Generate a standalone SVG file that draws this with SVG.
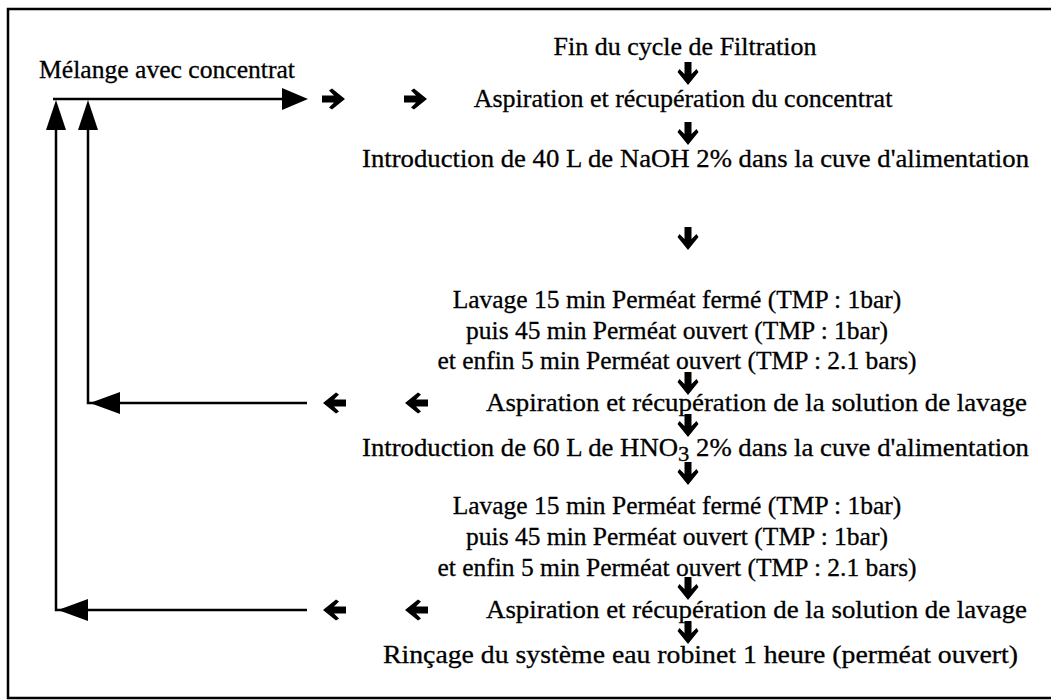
<svg xmlns="http://www.w3.org/2000/svg" xmlns:xlink="http://www.w3.org/1999/xlink" width="1051" height="700" viewBox="0 0 1051 700">
<style>
.t{font-family:"Liberation Serif","Times New Roman",Times,serif;font-size:26px;fill:#000;stroke:#000;stroke-width:0.3}
.s{font-size:25.5px}
.m{text-anchor:middle}
.ln{stroke:#000;stroke-width:2.5;fill:none}
.fr{stroke:#000;stroke-width:2.5;fill:none}
</style>
<defs>
<path id="ar" d="M-11,-3.5 H1 L-4,-8.5 L-1,-10.5 L12,0 L-1,10.5 L-4,8.5 L1,3.5 H-11 Z" fill="#000"/>
</defs>
<rect width="1051" height="700" fill="#fff"/>
<g id="frame">
<path class="fr" d="M1051,9 H8 V698 H1051"/>
</g>
<g id="n-fin"><text class="t m" x="685" y="55">Fin du cycle de Filtration</text></g>
<g id="n-melange"><text class="t" x="39" y="78" textLength="256" lengthAdjust="spacingAndGlyphs">Mélange avec concentrat</text></g>
<g id="n-asp1"><text class="t m" x="683" y="107">Aspiration et récupération du concentrat</text></g>
<g id="n-intro1"><text class="t" x="362" y="167" textLength="667" lengthAdjust="spacingAndGlyphs">Introduction de 40 L de NaOH 2% dans la cuve d'alimentation</text></g>
<g id="n-lav1">
<text class="t s m" x="677" y="308">Lavage 15 min Perméat fermé (TMP : 1bar)</text>
<text class="t s m" x="677" y="339">puis 45 min Perméat ouvert (TMP : 1bar)</text>
<text class="t s m" x="677" y="369">et enfin 5 min Perméat ouvert (TMP : 2.1 bars)</text>
</g>
<g id="n-sol1"><text class="t" x="486" y="411" textLength="541" lengthAdjust="spacingAndGlyphs">Aspiration et récupération de la solution de lavage</text></g>
<g id="n-intro2"><text class="t" x="362" y="456" textLength="667" lengthAdjust="spacingAndGlyphs">Introduction de 60 L de HNO<tspan font-size="22" dy="5">3</tspan><tspan dy="-5"> 2% dans la cuve d'alimentation</tspan></text></g>
<g id="n-lav2">
<text class="t s m" x="677" y="514">Lavage 15 min Perméat fermé (TMP : 1bar)</text>
<text class="t s m" x="677" y="545">puis 45 min Perméat ouvert (TMP : 1bar)</text>
<text class="t s m" x="677" y="576">et enfin 5 min Perméat ouvert (TMP : 2.1 bars)</text>
</g>
<g id="n-sol2"><text class="t" x="486" y="618" textLength="541" lengthAdjust="spacingAndGlyphs">Aspiration et récupération de la solution de lavage</text></g>
<g id="n-rincage"><text class="t" x="383" y="663" textLength="635" lengthAdjust="spacingAndGlyphs">Rinçage du système eau robinet 1 heure (perméat ouvert)</text></g>
<g id="connectors">
<use xlink:href="#ar" transform="translate(688,73) rotate(90)"/>
<use xlink:href="#ar" transform="translate(688,133) rotate(90)"/>
<use xlink:href="#ar" transform="translate(688,238) rotate(90)"/>
<use xlink:href="#ar" transform="translate(688,383) rotate(90)"/>
<use xlink:href="#ar" transform="translate(688,425) rotate(90)"/>
<use xlink:href="#ar" transform="translate(688,473) rotate(90)"/>
<use xlink:href="#ar" transform="translate(688,588) rotate(90)"/>
<use xlink:href="#ar" transform="translate(688,632) rotate(90)"/>
<use xlink:href="#ar" transform="translate(333,99)"/>
<use xlink:href="#ar" transform="translate(415,99)"/>
<use xlink:href="#ar" transform="translate(335,403) rotate(180)"/>
<use xlink:href="#ar" transform="translate(417,403) rotate(180)"/>
<use xlink:href="#ar" transform="translate(335,610) rotate(180)"/>
<use xlink:href="#ar" transform="translate(417,610) rotate(180)"/>
<path class="ln" d="M53,99 H284"/>
<polygon points="282,88 308,99 282,110"/>
<path class="ln" d="M56,128 V610 H86"/>
<polygon points="46,130 56,100 66,130"/>
<path class="ln" d="M88,128 V403 H118"/>
<polygon points="78,130 88,100 98,130"/>
<path class="ln" d="M86,610 H307"/>
<polygon points="88,599 58,610 88,621"/>
<path class="ln" d="M118,403 H307"/>
<polygon points="120,392 90,403 120,414"/>
</g>
</svg>
